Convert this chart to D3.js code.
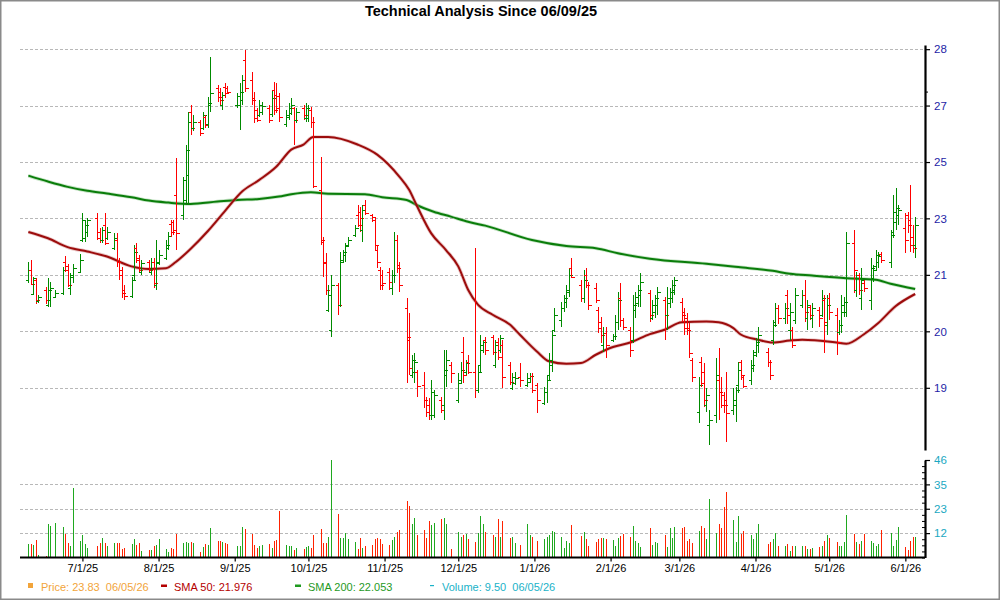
<!DOCTYPE html>
<html>
<head>
<meta charset="utf-8">
<script src="https://cdn.jsdelivr.net/npm/d3@7"></script>
<style>
  html, body { margin: 0; padding: 0; background: #ffffff; }
  svg { display: block; font-family: "Liberation Sans", Arial, sans-serif; }
</style>
</head>
<body>
<svg id="chart" width="1000" height="600"></svg>
<script>
// ---------------- DATA ----------------
const startDay = "2025-06-09";
const endDay = "2026-06-05";
const holidays = ["2025-06-19","2025-07-04","2025-09-01","2025-11-27","2025-12-25",
                  "2026-01-01","2026-01-19","2026-02-16","2026-04-03","2026-05-25"];

// one group per week
const openP = [
  21.31,21.57,20.94,21.31,20.75, 21.04,20.65,20.78,20.86, 20.96,21.79,21.68,21.09,21.44, 21.52,22.40,22.46,22.63,
  23.03,22.63,22.40,22.83,22.46, 22.18,22.40,21.79,21.57,21.04, 20.88,21.44,22.18,21.90,21.52, 21.79,21.52,21.79,21.17,21.76,
  21.90,22.18,22.86,22.91,23.71, 23.11,23.56,24.32,26.33,25.80, 26.00,25.80,26.16,25.93,26.56, 27.13,26.99,26.56,27.16,27.13,
  26.56,26.56,26.72,28.10, 27.40,26.79,26.39,26.23,26.33, 26.46,26.26,27.06,26.89,26.86, 25.93,26.16,26.29,26.46,26.06,
  26.46,26.13,26.13,26.39,26.00, 23.86,22.34,21.79,20.52,20.01, 21.17,20.65,21.85,21.98,22.26, 22.54,23.11,23.20,22.68,23.41,
  23.11,22.97,22.12,21.57,21.44, 21.52,21.09,21.44,22.40,21.71, 20.57,19.76,18.91,18.98,18.98, 18.67,18.32,18.21,17.98,17.98,
  18.32,18.21,18.91,19.15, 18.32,18.79,19.46,18.98,19.22, 18.98,18.55,19.15,19.51,19.76, 19.84,19.15,19.71,19.51,19.64,
  19.15,18.60,18.72,18.86, 18.67,18.74,18.89,18.67, 18.25,18.51,18.91,19.15,20.01, 20.26,20.57,20.73,20.99,21.63,
  21.17,20.83,21.44,21.17, 21.09,20.52,20.21,19.64,19.94, 19.76,19.86,20.21,20.83,20.26, 20.01,19.76,20.52,20.70,20.91,
  20.96,20.31,20.47,20.65, 20.78,20.39,20.70,20.83,21.04, 20.73,20.47,20.31,20.06,19.27, 18.05,19.22,18.98,18.21,17.75,
  17.98,18.79,18.51,18.44,18.32, 18.09,18.21,18.67,19.22,18.86, 18.79,19.08,19.46,19.64, 19.46,19.22,19.76,20.21,20.57,
  20.31,20.91,20.01,20.01,20.26, 20.65,20.91,20.31,20.60,20.31, 20.52,20.39,20.78,20.14,20.83, 20.39,19.96,20.14,20.47,20.47,
  22.32,21.04,21.44,20.83,21.23, 20.78,21.36,21.68,21.79,22.01, 21.79,22.63,22.91,23.11, 22.74,23.11,22.97,22.49,22.26
];
const highP = [
  21.79,21.85,21.39,21.36,20.91, 21.12,21.36,21.25,21.04, 21.65,21.95,21.74,21.49,21.74, 22.01,23.17,22.97,23.03,
  23.17,22.74,22.77,23.17,22.77, 22.60,22.60,21.90,21.65,21.17, 21.39,22.26,22.32,21.98,21.85, 21.85,21.90,21.90,22.40,22.12,
  22.40,22.63,22.97,22.97,24.84, 24.25,25.26,26.33,26.56,26.23, 26.06,26.33,26.23,26.82,28.20, 27.23,27.13,26.99,27.30,27.20,
  26.96,27.30,27.57,28.45, 27.68,26.99,26.46,26.72,26.66, 26.56,27.06,27.33,27.30,26.96, 26.39,26.62,26.79,26.49,26.46,
  26.56,26.62,26.56,26.49,26.16, 24.88,22.49,22.04,21.17,21.44, 21.23,22.06,22.12,22.32,22.49, 22.83,23.41,23.35,23.41,23.56,
  23.14,23.05,22.26,21.65,21.57, 21.63,21.57,22.63,22.54,21.79, 20.83,20.44,19.39,19.44,19.03, 18.98,18.39,18.37,18.79,18.55,
  18.39,19.51,19.51,19.22, 18.96,19.22,19.84,19.27,19.39, 22.18,19.15,19.89,19.76,19.84, 19.89,19.76,19.81,19.89,19.76,
  19.22,18.96,18.98,19.20, 18.96,18.96,18.96,18.72, 18.62,18.91,19.44,20.01,20.57, 20.73,20.91,21.17,21.63,21.90,
  21.31,21.57,21.63,21.25, 21.23,20.60,20.34,20.09,20.09, 19.91,20.39,20.99,21.23,20.31, 20.09,20.91,20.99,21.17,21.49,
  21.04,20.78,20.91,21.12, 20.86,21.12,21.09,21.31,21.39, 20.83,20.57,20.44,20.19,19.32, 18.86,19.34,19.20,18.60,18.09,
  19.32,19.56,18.86,18.51,18.98, 18.60,18.62,19.22,19.27,18.91, 19.27,19.51,19.81,20.09, 19.56,19.27,20.26,20.70,20.65,
  20.70,21.04,20.70,20.09,21.09, 21.04,21.31,20.78,20.65,20.70, 20.60,21.04,20.91,20.91,20.96, 20.57,20.26,20.91,20.86,22.63,
  22.68,21.52,21.49,21.63,21.31, 21.90,21.71,22.12,22.06,22.06, 22.68,23.71,23.92,23.41, 23.17,23.20,24.01,22.83,23.05
];
const lowP = [
  21.23,21.17,20.91,20.68,20.70, 20.68,20.60,20.60,20.83, 20.91,21.52,21.12,20.91,21.23, 21.49,22.34,22.34,22.49,
  22.40,22.32,22.32,22.26,22.40, 22.12,21.65,21.31,20.83,20.78, 20.83,21.31,21.76,21.52,21.44, 21.52,21.44,21.09,21.04,21.71,
  21.85,22.12,22.49,22.54,22.12, 22.97,23.47,23.47,25.58,25.68, 25.52,25.74,25.80,25.80,26.33, 26.66,26.56,26.39,26.79,26.92,
  26.46,25.74,26.56,26.99, 26.56,25.96,26.00,26.16,26.23, 25.96,26.16,26.23,26.29,26.00, 25.83,26.06,26.23,25.26,25.96,
  26.06,26.00,26.00,25.80,23.92, 22.26,21.39,20.91,20.47,19.84, 20.39,20.60,21.76,21.79,22.21, 22.49,22.77,22.63,22.34,23.11,
  22.91,22.12,21.63,21.04,21.04, 21.04,20.91,21.23,21.49,20.99, 18.72,18.91,18.84,18.72,18.39, 18.14,17.94,17.87,17.87,17.91,
  18.03,17.87,18.62,18.72, 18.25,18.72,18.72,18.91,18.93, 18.37,18.48,18.96,19.44,19.39, 19.39,19.08,19.27,19.44,18.60,
  18.67,18.55,18.67,18.62, 18.62,18.72,18.48,18.03, 18.21,18.25,18.79,18.98,19.96, 20.09,20.47,20.57,20.86,21.36,
  20.73,20.70,21.09,20.52, 20.70,19.94,19.69,19.46,19.32, 19.71,19.76,20.01,20.09,20.01, 19.34,19.69,20.31,20.60,20.60,
  20.21,20.26,20.31,20.39, 19.76,20.01,20.57,20.70,20.91, 20.21,19.89,19.89,19.32,18.74, 17.80,18.62,18.16,18.05,17.31,
  17.80,17.87,18.14,18.03,17.38, 17.98,17.82,18.48,18.79,18.60, 18.67,18.98,19.34,19.44, 19.10,18.79,19.64,20.09,20.16,
  20.16,20.16,19.76,19.56,20.16, 20.57,20.21,20.01,20.26,20.06, 20.09,20.34,19.44,19.89,20.26, 19.39,19.89,19.94,20.34,20.34,
  20.96,20.86,20.91,20.52,20.99, 20.52,21.25,21.57,21.63,21.76, 21.63,22.46,22.68,22.83, 22.04,22.60,22.06,22.04,21.90
];
const closeP = [
  21.57,21.20,21.36,20.78,20.86, 20.78,21.04,21.09,20.96, 21.57,21.57,21.17,21.39,21.63, 21.85,22.97,22.83,22.97,
  22.46,22.40,22.68,22.32,22.63, 22.46,21.79,21.44,20.96,20.88, 21.31,22.06,21.85,21.57,21.76, 21.57,21.79,21.23,21.79,21.98,
  22.26,22.51,22.63,22.68,22.60, 24.16,25.10,26.00,25.80,26.00, 25.64,26.23,25.90,26.62,26.96, 26.82,26.72,26.89,26.96,26.99,
  26.86,26.99,27.40,27.13, 26.72,26.13,26.06,26.56,26.52, 26.06,26.79,26.39,26.46,26.16, 26.23,26.46,26.56,26.06,26.33,
  26.23,26.46,26.39,26.00,23.98, 22.40,21.76,21.04,20.91,21.17, 20.65,21.79,22.06,22.23,22.40, 22.74,22.83,23.03,23.26,23.17,
  23.05,22.26,21.79,21.17,21.23, 21.25,21.44,22.40,21.63,21.17, 19.84,19.08,19.27,19.22,18.65, 18.32,18.05,17.98,18.51,18.44,
  18.09,19.03,19.27,18.96, 18.72,19.03,18.91,19.20,18.98, 18.55,18.98,19.64,19.71,19.51, 19.46,19.64,19.34,19.81,18.86,
  18.74,18.86,18.84,18.79, 18.84,18.89,18.55,18.32, 18.51,18.79,19.27,19.89,20.39, 20.57,20.83,21.04,21.44,21.39,
  20.83,21.31,21.17,20.65, 20.78,20.06,19.89,19.94,19.64, 19.86,20.21,20.78,20.26,20.09, 19.51,20.65,20.86,21.04,21.25,
  20.39,20.65,20.83,20.99, 20.39,20.83,20.99,21.17,21.31, 20.39,20.06,20.01,19.44,18.86, 18.67,18.72,18.32,18.44,17.87,
  18.91,18.51,18.21,18.21,18.03, 18.32,18.55,19.03,18.91,18.65, 19.15,19.39,19.71,19.89, 19.22,18.91,20.14,20.57,20.31,
  20.57,20.39,20.47,19.64,20.91, 20.91,20.47,20.65,20.39,20.57, 20.31,20.83,20.21,20.65,20.47, 19.71,20.14,20.65,20.73,22.32,
  21.57,21.36,21.04,21.31,21.09, 21.63,21.57,21.98,21.95,21.85, 22.54,23.20,23.32,23.26, 22.40,22.83,22.26,22.18,22.83
];
const volume = [
  6.3,6.3,5.9,8.3,1.0, 0.5,15.8,14.9,16.1, 14.2,11.0,6.7,5.2,32.6, 7.8,10.6,6.3,4.4,
  5.5,6.7,9.1,6.7,5.6, 6.7,6.7,6.7,4.1,4.4, 6.3,8.6,5.9,6.7,3.1, 3.6,3.6,5.5,5.9,8.6,
  4.1,2.5,4.4,4.1,11.0, 6.7,7.2,7.0,7.2,6.7, 2.8,4.9,6.3,5.9,13.8, 7.8,7.8,7.5,6.7,6.3,
  5.5,5.2,14.2,13.5, 11.0,5.9,4.7,5.2,5.9, 6.3,4.4,7.8,8.3,21.9, 5.9,5.2,5.5,3.6,4.4,
  4.1,4.9,5.5,4.4,10.6, 13.5,6.7,6.7,9.5,45.9, 20.5,9.1,9.1,11.4,8.6, 7.5,4.1,9.1,4.4,5.5,
  5.9,8.6,9.1,8.6,6.4, 5.9,8.3,9.5,12.2,13.0, 26.6,24.3,15.8,18.5,10.6, 13.0,9.1,17.2,15.3,16.1,
  18.2,18.5,15.8,4.1, 12.2,9.9,10.6,11.0,8.6, 7.5,11.4,19.6,15.8,11.9, 10.6,9.9,18.2,9.5,17.2,
  9.1,9.5,6.7,5.9, 15.8,10.6,9.5,7.8, 8.9,9.5,10.6,12.5,11.9, 9.5,4.4,7.8,6.7,15.3,
  10.2,11.9,8.6,5.2, 7.2,8.6,9.1,9.1,8.6, 8.3,5.6,9.1,10.2,11.1, 9.5,15.0,7.8,6.7,4.9,
  13.8,5.9,7.2,6.7, 10.6,4.9,13.8,9.1,14.4, 13.8,14.6,7.8,8.6,6.7, 12.5,15.0,13.8,8.6,27.4,
  11.4,15.8,13.8,23.6,30.7, 17.7,7.2,19.7,11.0,12.5, 10.6,8.6,11.4,15.8, 6.3,7.5,8.6,11.4,5.6,
  5.5,6.3,3.3,5.2,5.6, 5.2,5.6,3.9,3.9,4.4, 4.9,5.2,7.8,10.6,9.1, 7.2,5.5,5.6,7.5,20.0,
  11.0,7.5,6.3,8.0,11.0, 8.0,6.7,5.6,6.3,13.0, 11.4,5.6,8.3,14.2, 4.9,3.6,7.8,9.5,9.5
];

const sma50Dates = ["2025-06-09","2025-06-17","2025-06-25","2025-07-03","2025-07-11","2025-07-21","2025-07-28","2025-08-04",
  "2025-08-08","2025-08-14","2025-08-21","2025-08-28","2025-09-04","2025-09-11","2025-09-18","2025-09-24","2025-09-29",
  "2025-10-03","2025-10-09","2025-10-21","2025-10-29","2025-11-07","2025-11-11","2025-11-14","2025-11-20","2025-11-26",
  "2025-12-01","2025-12-05","2025-12-09","2025-12-15","2025-12-22","2025-12-26","2026-01-02","2026-01-07","2026-01-14",
  "2026-01-20","2026-01-26","2026-02-02","2026-02-09","2026-02-17","2026-02-23","2026-03-02","2026-03-12","2026-03-17",
  "2026-03-23","2026-03-26","2026-04-02","2026-04-08","2026-04-15","2026-04-20","2026-05-04","2026-05-08","2026-05-15",
  "2026-05-21","2026-05-28","2026-06-05"];
const sma50Values = [22.63,22.45,22.20,22.08,21.94,21.67,21.60,21.62,
  21.79,22.15,22.65,23.23,23.81,24.16,24.57,25.10,25.26,
  25.50,25.50,25.26,24.94,24.26,23.86,23.41,22.59,22.12,
  21.67,21.04,20.65,20.39,20.14,19.89,19.47,19.23,19.17,
  19.19,19.39,19.58,19.69,19.90,20.01,20.20,20.22,20.20,
  20.05,19.89,19.76,19.69,19.74,19.76,19.69,19.66,19.89,
  20.18,20.61,20.93];

const sma200Dates = ["2025-06-09","2025-06-17","2025-06-25","2025-07-03","2025-07-11","2025-07-21","2025-07-28","2025-08-05",
  "2025-08-14","2025-08-25","2025-09-02","2025-09-11","2025-09-19","2025-09-24","2025-10-02","2025-10-09","2025-10-24",
  "2025-10-31","2025-11-10","2025-11-14","2025-11-21","2025-11-28","2025-12-05","2025-12-12","2025-12-31","2026-01-14",
  "2026-01-26","2026-02-04","2026-02-17","2026-03-12","2026-03-25","2026-04-08","2026-04-15","2026-04-24","2026-05-08",
  "2026-05-20","2026-05-26","2026-06-05"];
const sma200Values = [24.29,24.11,23.95,23.83,23.75,23.64,23.54,23.48,
  23.44,23.51,23.56,23.59,23.66,23.73,23.79,23.74,23.73,
  23.64,23.56,23.41,23.21,23.07,22.92,22.81,22.40,22.23,
  22.17,22.03,21.88,21.74,21.65,21.55,21.47,21.42,21.35,
  21.31,21.20,21.06];

const priceTicks = [18.6, 19.97, 21.44, 23.02, 24.71, 26.53, 28.48];
const priceMinorTicks = [27];
const volumeTicks = [11.5, 23, 34.5, 46];

const titleText = "Technical Analysis Since 06/09/25";
const legendItems = [
  {label: "Price: 23.83  06/05/26", color: "#f2a43a", mark: "square"},
  {label: "SMA 50: 21.976", color: "#b40000", mark: "dash"},
  {label: "SMA 200: 22.053", color: "#1f9a1f", mark: "dash"},
  {label: "Volume: 9.50  06/05/26", color: "#19b2c8", mark: "thin"}
];

// ---------------- BUILD ----------------
const parse = d3.timeParse("%Y-%m-%d");
const fmtKey = d3.timeFormat("%Y-%m-%d");
const holidaySet = new Set(holidays);
const days = [];
for (let d = parse(startDay); d <= parse(endDay); d = d3.timeDay.offset(d, 1)) {
  const wd = d.getDay();
  if (wd === 0 || wd === 6 || holidaySet.has(fmtKey(d))) continue;
  days.push(d);
}
const bars = days.map((d, i) => ({
  date: d, o: openP[i], h: highP[i], l: lowP[i], c: closeP[i], v: volume[i]
})).filter(b => b.o !== undefined);

const svg = d3.select("#chart");
svg.append("rect").attr("width", 1000).attr("height", 600).attr("fill", "#fff");
svg.append("rect").attr("x", 0.75).attr("y", 0.75).attr("width", 998.5).attr("height", 598.5)
  .attr("fill", "none").attr("stroke", "#8a8a8a").attr("stroke-width", 1.5);

const x = d3.scaleTime().domain([new Date(2025, 5, 6), new Date(2026, 5, 9)]).range([21, 925]);
const yP = d3.scaleLog().domain([17.2, 28.63]).range([450, 45]);
const yV = d3.scaleLinear().domain([0, 46]).range([557.5, 460]);
const X0 = 20, X1 = 925;

// Title
svg.append("text").attr("x", 481).attr("y", 16).attr("text-anchor", "middle")
  .attr("font-size", "14.5px").attr("font-weight", "bold").attr("fill", "#000").text(titleText);

// Gridlines
const grid = svg.append("g").attr("stroke", "#b8b8b8").attr("stroke-width", 1).attr("stroke-dasharray", "3,2");
priceTicks.forEach(t => {
  const yy = Math.round(yP(t)) + 0.5;
  grid.append("line").attr("x1", X0).attr("x2", X1).attr("y1", yy).attr("y2", yy);
});
volumeTicks.filter(t => t < 46).forEach(t => {
  const yy = Math.round(yV(t)) + 0.5;
  grid.append("line").attr("x1", X0).attr("x2", X1).attr("y1", yy).attr("y2", yy);
});

// SMA lines
function smaLine(dates, vals, color, halo) {
  const pts = dates.map((d, i) => [x(parse(d)), yP(vals[i])]);
  const gen = d3.line().curve(d3.curveMonotoneX);
  svg.append("path").attr("d", gen(pts)).attr("fill", "none").attr("stroke", halo)
    .attr("stroke-width", 3.6).attr("stroke-linejoin", "round").attr("opacity", 0.45);
  svg.append("path").attr("d", gen(pts)).attr("fill", "none").attr("stroke", color)
    .attr("stroke-width", 2).attr("stroke-linejoin", "round");
}
smaLine(sma200Dates, sma200Values, "#0a7d0a", "#7fc27f");
smaLine(sma50Dates, sma50Values, "#9c0c0c", "#d08080");

// Price bars (OHLC)
const GREEN = "#008a00", RED = "#ff0000";
const pg = svg.append("g").attr("shape-rendering", "crispEdges").attr("stroke-width", 1);
bars.forEach(b => {
  const xx = Math.round(x(b.date)) + 0.5;
  const col = b.c >= b.o ? GREEN : RED;
  pg.append("line").attr("x1", xx).attr("x2", xx).attr("y1", yP(b.h)).attr("y2", yP(b.l)).attr("stroke", col);
  const yo = Math.round(yP(b.o)) + 0.5, yc = Math.round(yP(b.c)) + 0.5;
  pg.append("line").attr("x1", xx - 3).attr("x2", xx).attr("y1", yo).attr("y2", yo).attr("stroke", col);
  pg.append("line").attr("x1", xx).attr("x2", xx + 3).attr("y1", yc).attr("y2", yc).attr("stroke", col);
});

// Volume bars
const vg = svg.append("g").attr("shape-rendering", "crispEdges").attr("stroke-width", 1);
bars.forEach(b => {
  const xx = Math.round(x(b.date)) + 0.5;
  vg.append("line").attr("x1", xx).attr("x2", xx).attr("y1", yV(0)).attr("y2", yV(b.v))
    .attr("stroke", b.c >= b.o ? "#1fa81f" : "#ff2200");
});

// Price axis
const pAxis = svg.append("g").attr("transform", `translate(${X1},0)`)
  .call(d3.axisRight(yP).tickValues(priceTicks).tickFormat(d3.format(".0f")).tickSize(5).tickSizeOuter(0));
pAxis.select(".domain").attr("stroke", "#000").attr("stroke-width", 2.2);
pAxis.selectAll(".tick line").attr("stroke", "#000").attr("stroke-width", 1.2);
pAxis.selectAll(".tick text").attr("x", 9).attr("fill", "#1e1ea6")
  .attr("font-size", "11.5px").attr("font-family", "'Liberation Sans', Arial, sans-serif");
svg.append("g").attr("transform", `translate(${X1},0)`)
  .call(d3.axisRight(yP).tickValues(priceMinorTicks).tickFormat("").tickSize(3).tickSizeOuter(0))
  .call(g => g.select(".domain").remove())
  .selectAll("line").attr("stroke", "#000");

// Volume axis
const vAxis = svg.append("g").attr("transform", `translate(${X1},0)`)
  .call(d3.axisRight(yV).tickValues(volumeTicks).tickFormat(d3.format(".0f")).tickSize(5).tickSizeOuter(0));
vAxis.select(".domain").attr("stroke", "#000").attr("stroke-width", 2.2);
vAxis.selectAll(".tick line").attr("stroke", "#000").attr("stroke-width", 1.2);
vAxis.selectAll(".tick text").attr("x", 9).attr("fill", "#1aa8c2")
  .attr("font-size", "11.5px").attr("font-family", "'Liberation Sans', Arial, sans-serif");
const minorV = d3.range(0, 46.01, 46 / 16).filter(v => !volumeTicks.some(t => Math.abs(t - v) < 1e-6));
svg.append("g").attr("transform", `translate(${X1},0)`)
  .call(d3.axisLeft(yV).tickValues(minorV).tickFormat("").tickSize(3).tickSizeOuter(0))
  .call(g => g.select(".domain").remove())
  .selectAll("line").attr("stroke", "#000");

// X axis
const months = d3.timeMonth.range(new Date(2025, 6, 1), new Date(2026, 5, 2));
const xAxis = svg.append("g").attr("transform", `translate(0,${yV(0)})`)
  .call(d3.axisBottom(x).tickValues(months).tickFormat(d3.timeFormat("%-m/%-d/%y")).tickSize(4).tickSizeOuter(0));
xAxis.select(".domain").attr("stroke", "#000").attr("stroke-width", 2.2).attr("d", `M${X0},0H${X1}`);
xAxis.selectAll(".tick line").attr("stroke", "#000").attr("stroke-width", 1.2);
xAxis.selectAll(".tick text").attr("fill", "#000").attr("font-size", "11px")
  .attr("font-family", "'Liberation Sans', Arial, sans-serif");

// Legend
const legendX = [28, 161, 295, 429];
const lg = svg.append("g").attr("font-size", "11px");
legendItems.forEach((it, i) => {
  const lx = legendX[i];
  if (it.mark === "square") {
    lg.append("rect").attr("x", lx).attr("y", 583).attr("width", 5).attr("height", 5).attr("fill", it.color);
  } else if (it.mark === "dash") {
    lg.append("rect").attr("x", lx).attr("y", 584.5).attr("width", 6).attr("height", 2.5).attr("fill", it.color);
  } else {
    lg.append("rect").attr("x", lx + 1).attr("y", 585).attr("width", 4).attr("height", 1.2).attr("fill", it.color);
  }
  lg.append("text").attr("x", lx + 13).attr("y", 591).attr("fill", it.color)
    .style("white-space", "pre").text(it.label);
});
</script>
</body>
</html>
